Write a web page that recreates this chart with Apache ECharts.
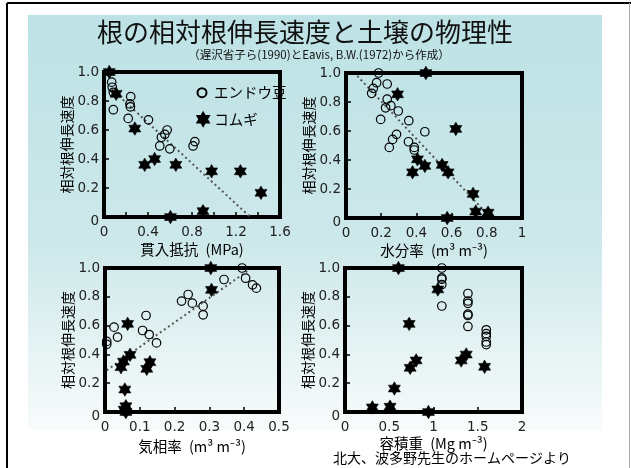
<!DOCTYPE html>
<html><head><meta charset="utf-8">
<script src="https://cdn.jsdelivr.net/npm/echarts@6/dist/echarts.min.js"></script>
<style>html,body{margin:0;padding:0;background:#fff;}#c{width:631px;height:468px;}</style>
</head><body><div id="c"></div>
<script>
const titleText = '根の相対根伸長速度と土壌の物理性';
const subtitleText = '（遅沢省子ら(1990)とEavis, B.W.(1972)から作成）';
const footerText = '北大、波多野先生のホームページより';
const yName = '相対根伸長速度';
const seriesNames = ['エンドウ豆', 'コムギ'];
const xNames = ['貫入抵抗\u2002(MPa)', '水分率\u2002(m³ m⁻³)', '気相率\u2002(m³ m⁻³)', '容積重\u2002(Mg m⁻³)'];
const xMax = [1.6, 1, 0.5, 2];
const xStep = [0.4, 0.2, 0.1, 0.5];
const yMax = 1;
const yStep = 0.2;

// Panel 1: penetration resistance (MPa)
const peaResistance = [[0.07,0.93],[0.075,0.895],[0.085,0.86],[0.085,0.74],[0.243,0.83],[0.236,0.78],[0.24,0.76],[0.22,0.68],[0.404,0.67],[0.574,0.60],[0.553,0.57],[0.522,0.55],[0.507,0.49],[0.598,0.47],[0.826,0.52],[0.81,0.49]];
const wheatResistance = [[0.048,1.0],[0.11,0.85],[0.28,0.61],[0.37,0.36],[0.46,0.40],[0.604,0.0],[0.653,0.36],[0.90,0.04],[0.978,0.315],[1.24,0.315],[1.427,0.167]];
const trendResistance = [[0.07,0.88],[1.33,0]];

// Panel 2: water content (m3 m-3)
const peaWater = [[0.185,1.0],[0.174,0.933],[0.155,0.894],[0.146,0.86],[0.234,0.924],[0.234,0.82],[0.225,0.76],[0.255,0.775],[0.297,0.738],[0.197,0.68],[0.357,0.671],[0.448,0.595],[0.287,0.577],[0.265,0.542],[0.246,0.487],[0.355,0.526],[0.388,0.487],[0.388,0.469]];
const wheatWater = [[0.454,1.0],[0.293,0.853],[0.624,0.614],[0.406,0.405],[0.448,0.359],[0.378,0.315],[0.546,0.366],[0.58,0.315],[0.722,0.166],[0.737,0.044],[0.807,0.037],[0.575,0.0]];
const trendWater = [[0.064,0.98],[0.8,0.03]];

// Panel 3: air-filled porosity (m3 m-3)
const peaAir = [[0.005,0.49],[0.005,0.47],[0.026,0.589],[0.036,0.52],[0.108,0.566],[0.118,0.67],[0.127,0.538],[0.148,0.48],[0.22,0.77],[0.239,0.816],[0.251,0.756],[0.282,0.735],[0.282,0.675],[0.342,0.92],[0.394,1.0],[0.404,0.929],[0.424,0.883],[0.435,0.86]];
const wheatAir = [[0.304,1.0],[0.306,0.848],[0.065,0.612],[0.072,0.397],[0.053,0.35],[0.046,0.311],[0.12,0.30],[0.129,0.346],[0.057,0.156],[0.06,0.04],[0.055,0.017],[0.06,0.0]];
const trendAir = [[0.005,0.29],[0.41,0.98]];

// Panel 4: bulk density (Mg m-3)
const peaDensity = [[1.094,1.0],[1.094,0.931],[1.094,0.922],[1.094,0.885],[1.094,0.736],[1.389,0.823],[1.389,0.771],[1.389,0.755],[1.389,0.679],[1.389,0.67],[1.389,0.594],[1.596,0.571],[1.596,0.544],[1.596,0.525],[1.596,0.486],[1.596,0.468]];
const wheatDensity = [[0.604,1.0],[1.049,0.851],[0.725,0.612],[0.736,0.307],[0.804,0.358],[1.313,0.358],[1.37,0.399],[1.577,0.314],[0.558,0.163],[0.309,0.032],[0.509,0.037],[0.943,0.0]];

const peaSets = [peaResistance, peaWater, peaAir, peaDensity];
const wheatSets = [wheatResistance, wheatWater, wheatAir, wheatDensity];
const trendSets = [trendResistance, trendWater, trendAir, null];

const starPath = 'path://M100,0 L128.87,50 L186.6,50 L157.7,100 L186.6,150 L128.87,150 L100,200 L71.13,150 L13.4,150 L42.3,100 L13.4,50 L71.13,50 Z';
const grids = [
  {left:104, top:72, width:176, height:145},
  {left:346, top:73, width:176, height:145},
  {left:105, top:268, width:174, height:144},
  {left:345, top:268, width:177, height:144}
];
const xNameGaps = [25, 25, 27, 24];

const numFont = 'DejaVu Sans';
const jpFont = '"Noto Sans CJK JP"';

function fmtX(v){ return String(Number(v.toFixed(2))); }
function fmtY(v){ return v === 0 ? '{z|0}' : v.toFixed(1); }

const xAxes = [], yAxes = [], series = [];
for (let i = 0; i < 4; i++) {
  xAxes.push({
    type:'value', gridIndex:i, min:0, max:xMax[i], interval:xStep[i],
    axisLine:{show:false},
    axisTick:{show:true, inside:true, length:5, lineStyle:{color:'#000', width:1.5}},
    minorTick:{show:i===0, splitNumber:2, length:5, lineStyle:{color:'#000', width:1.5}},
    splitLine:{show:false},
    axisLabel:{fontFamily:numFont, fontSize:13.5, color:'#222', margin:8, formatter:fmtX},
    name:xNames[i], nameLocation:'middle', nameGap:xNameGaps[i],
    nameTextStyle:{fontFamily:jpFont, fontSize:14.5, color:'#000'}
  });
  yAxes.push({
    type:'value', gridIndex:i, min:0, max:yMax, interval:yStep,
    axisLine:{show:false},
    axisTick:{show:true, inside:true, length:5, lineStyle:{color:'#000', width:1.5}},
    splitLine:{show:false},
    axisLabel:{fontFamily:numFont, fontSize:13.5, color:'#222', margin:5, formatter:fmtY,
      rich:{z:{fontFamily:numFont, fontSize:13.5, color:'#222', padding:[8,0,0,0]}}},
    name:yName, nameLocation:'middle', nameGap:30, nameRotate:90,
    nameTextStyle:{fontFamily:jpFont, fontSize:14, color:'#000'}
  });
  if (trendSets[i]) {
    series.push({
      type:'line', xAxisIndex:i, yAxisIndex:i, data:trendSets[i], showSymbol:false, silent:true,
      lineStyle:{color:'#555', width:2, type:[2,3]}, z:1
    });
  }
  series.push({
    name:seriesNames[0], type:'scatter', xAxisIndex:i, yAxisIndex:i, data:peaSets[i], clip:false,
    symbol:'circle', symbolSize:8.5,
    itemStyle:{color:'rgba(0,0,0,0)', borderColor:'#000', borderWidth:1.2, opacity:1}, z:3
  });
  series.push({
    name:seriesNames[1], type:'scatter', xAxisIndex:i, yAxisIndex:i, data:wheatSets[i], clip:false,
    symbol:starPath, symbolSize:[12,13.5],
    itemStyle:{color:'#000', borderColor:'#000', borderWidth:0.6, opacity:1}, z:4
  });
}

const chart = echarts.init(document.getElementById('c'), null, {renderer:'canvas'});
chart.setOption({
  animation:false,
  backgroundColor:'#fff',
  grid: grids.map(g => Object.assign({show:true, borderColor:'#000', borderWidth:4, backgroundColor:'transparent'}, g)),
  xAxis:xAxes, yAxis:yAxes, series:series,
  legend:[
    {data:[seriesNames[0]], orient:'vertical', left:196.5, top:83.7, padding:0, itemWidth:9, itemHeight:9,
     itemStyle:{opacity:1},
     textStyle:{fontFamily:jpFont, fontSize:14.5, lineHeight:18, color:'#000', padding:[0,0,0,2.5]}},
    {data:[seriesNames[1]], orient:'vertical', left:196.5, top:110.3, padding:0, itemWidth:12, itemHeight:13,
     itemStyle:{opacity:1},
     textStyle:{fontFamily:jpFont, fontSize:14.5, lineHeight:18, color:'#000'}}
  ],
  graphic:[
    {type:'rect', z:-10, silent:true, shape:{x:28, y:15, width:574, height:415},
     style:{fill:new echarts.graphic.LinearGradient(0,0,0,1,[
       {offset:0, color:'#bde2e5'},{offset:0.55, color:'#cde8ea'},{offset:1, color:'#f8fbfb'}])}},
    {type:'line', z:-5, silent:true, shape:{x1:7, y1:3, x2:631, y2:3}, style:{stroke:'#000', lineWidth:2}},
    {type:'line', z:-5, silent:true, shape:{x1:7, y1:3, x2:7, y2:468}, style:{stroke:'#000', lineWidth:2}},
    {type:'line', z:-5, silent:true, shape:{x1:629.5, y1:3, x2:629.5, y2:468}, style:{stroke:'#aaa', lineWidth:1}},
    {type:'text', z:10, silent:true, style:{text:titleText, x:97, y:32.5, align:'left', verticalAlign:'middle',
      fontFamily:jpFont, fontSize:26, fill:'#111'}},
    {type:'text', z:10, silent:true, style:{text:subtitleText, x:319, y:55, align:'center', verticalAlign:'middle',
      fontFamily:jpFont, fontSize:11.5, fill:'#111'}},
    {type:'text', z:10, silent:true, style:{text:footerText, x:571, y:458, align:'right', verticalAlign:'middle',
      fontFamily:jpFont, fontSize:14, fill:'#000'}}
  ]
});
</script>
</body></html>
